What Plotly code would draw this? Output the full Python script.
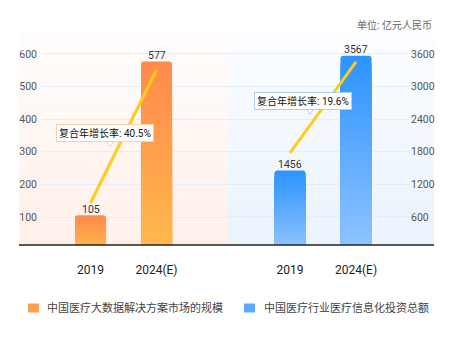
import plotly.graph_objects as go

# ---------------- data ----------------
categories = ["2019", "2024(E)"]
market_values = [105, 577]          # 中国医疗大数据解决方案市场的规模
invest_values = [1456, 3567]        # 中国医疗行业医疗信息化投资总额
series_names = ["中国医疗大数据解决方案市场的规模", "中国医疗行业医疗信息化投资总额"]
cagr_labels = ["复合年增长率: 40.5%", "复合年增长率: 19.6%"]
left_ticks = [100, 200, 300, 400, 500, 600]
right_ticks = [600, 1200, 1800, 2400, 3000, 3600]
unit_label = "单位: 亿元人民币"

# ---------------- layout geometry ----------------
W, H = 457, 357
L, R, T, B = 42, 47, 40, 112
PW, PH = W - L - R, H - T - B
BASE_PX = H - B


def px_x(px):
    return (px - L) / PW


def px_y(py):
    return (BASE_PX - py) / PH


FONT = "Roboto, 'Noto Sans CJK SC', sans-serif"
left_range = [14.1, 642.9]
right_range = [84.6, 3857.0]
split = px_x(227)


def hex2rgb(h):
    h = h.lstrip("#")
    return tuple(int(h[i:i + 2], 16) for i in (0, 2, 4))


def mix(c1, c2, t):
    a, b = hex2rgb(c1), hex2rgb(c2)
    return "rgb(%d,%d,%d)" % tuple(round(a[k] + (b[k] - a[k]) * t) for k in range(3))


fig = go.Figure()


def add_bars(values, xa, ya, top, bottom, n=28):
    for i in range(n):
        f = 1 - i / n
        fig.add_trace(go.Bar(
            x=[0, 1], y=[v * f for v in values], width=0.47,
            marker=dict(color=mix(top, bottom, i / (n - 1)), cornerradius=3, line_width=0),
            xaxis=xa, yaxis=ya, hoverinfo="skip", showlegend=False,
        ))


add_bars(market_values, "x", "y", "#FF8A4C", "#FFB84C")
add_bars(invest_values, "x2", "y2", "#2E94FF", "#8EC3FF")


def add_cagr_line(values, xa, ya, rng, start_px, end_px):
    per_px = (rng[1] - rng[0]) / PH
    fig.add_trace(go.Scatter(
        x=[0, 1], y=[values[0] + start_px * per_px, values[1] - end_px * per_px],
        mode="lines", line=dict(color="#FFCC1A", width=3),
        xaxis=xa, yaxis=ya, hoverinfo="skip", showlegend=False, cliponaxis=False,
    ))


add_cagr_line(market_values, "x", "y", left_range, 12.4, 8.5)
add_cagr_line(invest_values, "x2", "y2", right_range, 17.7, 6.2)

# ---------------- shapes ----------------
shapes = []
nb = 16
top_py, bot_py = 32, BASE_PX
for (x0, x1, ctop, cbot) in [(19, 227, "#FFFDFC", "#FFF0EA"), (227, 434, "#FBFDFF", "#EBF3FD")]:
    for i in range(nb):
        y0 = top_py + (bot_py - top_py) * i / nb
        y1 = top_py + (bot_py - top_py) * (i + 1) / nb
        shapes.append(dict(type="rect", xref="paper", yref="paper",
                           x0=px_x(x0), x1=px_x(x1), y0=px_y(y1), y1=px_y(y0) + 0.002,
                           fillcolor=mix(ctop, cbot, i / (nb - 1)), line_width=0, layer="below"))

# axis line
shapes.append(dict(type="line", xref="paper", yref="paper", x0=px_x(19), x1=px_x(434),
                   y0=0, y1=0, line=dict(color="#222", width=1.6), layer="above"))

# tooltip pointers
for (tx, ty, by, col) in [(110, 147, 140.5, "#FFCFA8"), (310, 114.5, 108.5, "#A9D0F8")]:
    path = "M%f,%f L%f,%f L%f,%f" % (px_x(tx - 4), px_y(by), px_x(tx), px_y(ty), px_x(tx + 4), px_y(by))
    shapes.append(dict(type="path", xref="paper", yref="paper", path=path,
                       fillcolor="white", line=dict(color=col, width=1), layer="above"))

# legend squares
legend_colors = ["#FFA04E", "#5AABFF"]
legend_sq = [(28, 39), (244, 255)]
for (x0, x1), c in zip(legend_sq, legend_colors):
    shapes.append(dict(type="rect", xref="paper", yref="paper", x0=px_x(x0), x1=px_x(x1),
                       y0=px_y(312.5), y1=px_y(303.5), fillcolor=c, line_width=0))

# ---------------- annotations ----------------
annotations = []
# value labels above bars (data coordinates)
for vals, xr, yr in [(market_values, "x", "y"), (invest_values, "x2", "y2")]:
    for i, v in enumerate(vals):
        annotations.append(dict(xref=xr, yref=yr, x=i, y=v, text=str(v), showarrow=False,
                                xanchor="center", yanchor="middle", yshift=6,
                                font=dict(size=10.5, color="#333", family=FONT)))

for (cx, cy, txt, col) in [(104.7, 133, cagr_labels[0], "#FFCFA8"), (303.3, 101, cagr_labels[1], "#A9D0F8")]:
    annotations.append(dict(xref="paper", yref="paper", x=px_x(cx), y=px_y(cy), text=txt,
                            showarrow=False, xanchor="center", yanchor="middle",
                            font=dict(size=10, color="#111", family=FONT),
                            bgcolor="white", bordercolor=col, borderwidth=1, borderpad=2))

annotations.append(dict(xref="paper", yref="paper", x=px_x(434), y=px_y(25), text=unit_label,
                        showarrow=False, xanchor="right", yanchor="middle",
                        font=dict(size=10, color="#666", family=FONT)))

for tx, name in zip([45, 262], series_names):
    annotations.append(dict(xref="paper", yref="paper", x=px_x(tx), y=px_y(308), text=name,
                            showarrow=False, xanchor="left", yanchor="middle",
                            font=dict(size=11, color="#444", family=FONT)))

# ---------------- layout ----------------
xcommon = dict(tickvals=[0, 1], ticktext=categories, showgrid=False, zeroline=False,
               showline=False, ticks="", ticklabelstandoff=16,
               tickfont=dict(size=12, color="#222", family=FONT), fixedrange=True)
ycommon = dict(showgrid=True, gridcolor="#E6EDF7", gridwidth=1, zeroline=False,
               showline=False, ticks="", tickfont=dict(size=10.5, color="#555", family=FONT))

fig.update_layout(
    width=W, height=H,
    margin=dict(l=L, r=R, t=T, b=B, autoexpand=False),
    paper_bgcolor="white", plot_bgcolor="rgba(0,0,0,0)",
    barmode="overlay", showlegend=False,
    xaxis=dict(domain=[0, split], range=[-0.735, 2.068], anchor="y", **xcommon),
    xaxis2=dict(domain=[split, 1], range=[-0.955, 1.818], anchor="y2", **xcommon),
    yaxis=dict(range=left_range, tickvals=left_ticks, anchor="x", side="left",
               ticklabelstandoff=4, **ycommon),
    yaxis2=dict(range=right_range, tickvals=right_ticks, anchor="x2", side="right",
                ticklabelstandoff=0, **ycommon),
    shapes=shapes, annotations=annotations,
    font=dict(family=FONT),
)

fig.write_html("out.html", config={"displayModeBar": False},
               post_script="document.body.style.margin='0px';")
